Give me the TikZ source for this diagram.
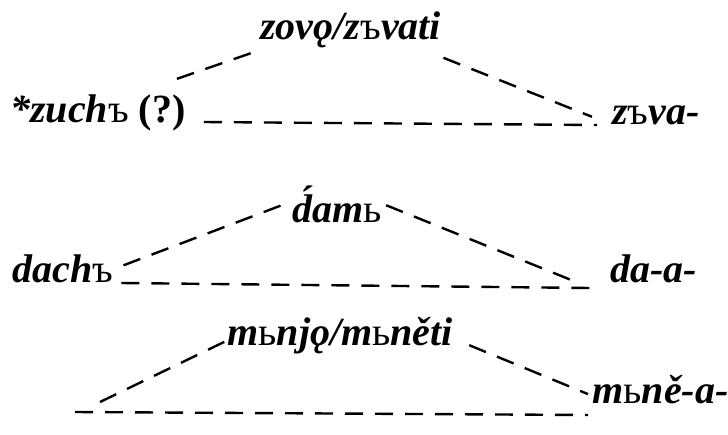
\documentclass[tikz,border=0pt]{standalone}
\usepackage{fontspec}
\setmainfont{Liberation Serif}
\usepackage{tikz}
\newcommand{\wordfont}{\fontsize{20}{24}\selectfont\bfseries\itshape}
\newcommand{\yer}[1]{{\mdseries\upshape #1}}

\begin{document}
\begin{tikzpicture}[
    x=0.5pt, y=-0.5pt,
    word/.style={font=\wordfont, inner sep=1pt, anchor=base west},
    link/.style={line width=1.2pt, dash pattern=on 9pt off 6pt}
]
\useasboundingbox (0,0) rectangle (728,434);

% first row
\node[word] (zuch) at (8,122) {*zuch\yer{ъ} \upshape(?)};
\node[word] (zov) at (258,39) {zovǫ/z\yer{ъ}vati};
\node[word] (zva) at (610,124) {z\yer{ъ}va-};

\draw[link] ([shift={(-11,-13)}]zuch.north east) -- ([shift={(-6,3)}]zov.south west);
\draw[link] ([shift={(0,8)}]zov.south east) -- ([shift={(-18,2)}]zva.west);
\draw[link] ([shift={(16,0)}]zuch.base east) -- ([shift={(-13,1)}]zva.base west);

% second row
\node[word] (dach) at (10,282) {dach\yer{ъ}};
\node[word] (dam) at (290,222) {\'dam\yer{ь}};
\node[word] (daa) at (608,282) {da-a-};

\draw[link] ([shift={(8,-3)}]dach.east) -- ([shift={(-3,-1)}]dam.west);
\draw[link] ([shift={(2,1)}]dam.east) -- ([shift={(-36,12)}]daa.west);
\draw[link] ([shift={(6,1)}]dach.base east) -- ([shift={(-18,6)}]daa.base west);

% third row
\coordinate (mup) at (100,402);
\coordinate (mlow) at (75,412);
\node[word] (mnjo) at (225,345) {m\yer{ь}njǫ/m\yer{ь}něti};
\node[word] (mnea) at (590,403) {m\yer{ь}ně-a-};

\draw[link] (mup) -- ([shift={(7,3)}]mnjo.west);
\draw[link] ([shift={(14,10)}]mnjo.east) -- ([shift={(-2,5)}]mnea.west);
\draw[link] (mlow) -- ([shift={(-2,12)}]mnea.base west);
\end{tikzpicture}
\end{document}
